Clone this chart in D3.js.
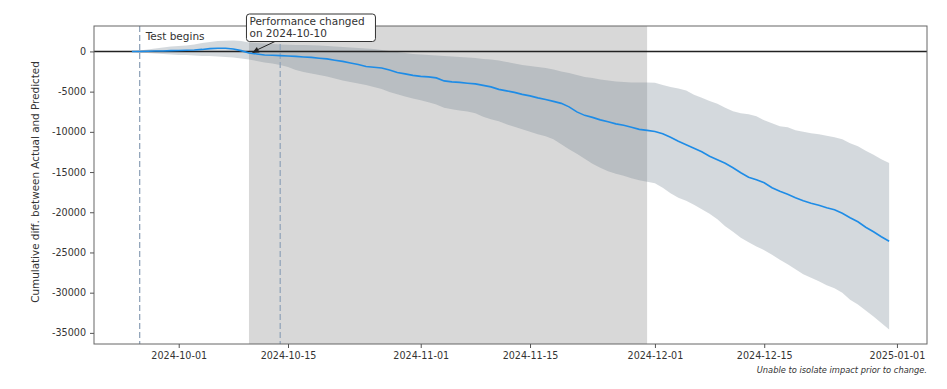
<!DOCTYPE html>
<html>
<head>
<meta charset="utf-8">
<script src="https://cdn.jsdelivr.net/npm/d3@7"></script>
<style>
  html, body { margin: 0; padding: 0; background: #fff; }
  svg { display: block; font-family: "DejaVu Sans", sans-serif; }
</style>
</head>
<body>
<svg id="chart" width="947" height="389"></svg>
<script>
// ---- data ----
const startDate = "2024-09-25"; // daily series, Sep 25 .. Dec 31 2024
const actualDiff = [
  0, 0, 25, 60, 60, 100,
  125, 150, 185, 250, 350, 400, 400, 310, 100, -185,
  -310, -435, -470, -520, -560, -620, -685, -745, -845, -930,
  -1095, -1240, -1430, -1615, -1865, -1960, -2050, -2300, -2610, -2795,
  -2980,
  -3105, -3165, -3290, -3665, -3790, -3850, -3950, -4035, -4225, -4410,
  -4720, -4905, -5090, -5340, -5525, -5775, -5985, -6210, -6460, -6895,
  -7515, -7950, -8200, -8510, -8755, -9005, -9190, -9440, -9690, -9815,
  -9960, -10245, -10680, -11180, -11610, -12045, -12480, -13040, -13475, -13910,
  -14470, -15090, -15650, -15960, -16330, -16955, -17390, -17765, -18200, -18570,
  -18880, -19130, -19440, -19690, -20120, -20680, -21180, -21860, -22420, -23040,
  -23610
];
const upperCI = [
  0, 125, 250, 375, 495, 620,
  685, 745, 870, 1055, 1180, 1305, 1340, 1365, 1305, 1120,
  1055, 995, 930, 870, 830, 805, 805, 770, 745, 685,
  620, 560, 495, 435, 375, 310, 185, 60, -60, -185,
  -310,
  -375, -435, -495, -560, -620, -685, -745, -805, -930, -995,
  -1120, -1305, -1490, -1675, -1800, -1925, -2050, -2235, -2485, -2670,
  -2920, -3170, -3290, -3480, -3600, -3725, -3790, -3850, -3875, -3875,
  -3910, -4160, -4410, -4595, -4845, -5400, -5775, -6150, -6520, -7015,
  -7450, -7700, -7825, -8075, -8570, -8940, -9315, -9440, -9810, -9995,
  -10185, -10310, -10495, -10680, -10930, -11425, -11800, -12360, -12855, -13415,
  -13885
];
const lowerCI = [
  0, -125, -185, -250, -310, -375,
  -435, -435, -495, -560, -560, -620, -685, -745, -870, -995,
  -1180, -1365, -1490, -1675, -1925, -2300, -2545, -2730, -2920, -3105,
  -3355, -3600, -3790, -3975, -4160, -4410, -4660, -5030, -5340, -5590,
  -5840,
  -6085, -6335, -6585, -7015, -7205, -7330, -7475, -7700, -8135, -8445,
  -8695, -9065, -9375, -9690, -10000, -10310, -10555, -10930, -11550, -12170,
  -12730, -13350, -13970, -14470, -14905, -15215, -15465, -15775, -16020, -16210,
  -16395, -16955, -17635, -18195, -18570, -19065, -19625, -20180, -20865, -21735,
  -22420, -23165, -23720, -24245, -24715, -25275, -25895, -26455, -27075, -27700,
  -28130, -28565, -29065, -29435, -29995, -30865, -31485, -32230, -32975, -33780,
  -34585
];
const xTickLabels = ["2024-10-01", "2024-10-15", "2024-11-01", "2024-11-15", "2024-12-01", "2024-12-15", "2025-01-01"];
const yTickValues = [0, -5000, -10000, -15000, -20000, -25000, -30000, -35000];
const testBegins = "2024-09-26";
const changeDate = "2024-10-10";
const secondMarker = "2024-10-14";
const periodEnd = "2024-11-30";
const annotationLines = ["Performance changed", "on 2024-10-10"];
const testLabel = "Test begins";
const yLabel = "Cumulative diff. between Actual and Predicted";
const footnote = "Unable to isolate impact prior to change.";

// ---- build ----
const parse = d3.utcParse("%Y-%m-%d");
const dates = d3.utcDay.range(parse(startDate), d3.utcDay.offset(parse(startDate), actualDiff.length));
const rows = dates.map((d, i) => ({ date: d, v: actualDiff[i], hi: upperCI[i], lo: lowerCI[i] }));

const svg = d3.select("#chart");
const M = { left: 94, right: 927, top: 26, bottom: 344 };

const xExt = d3.extent(dates);
const xPad = (xExt[1] - xExt[0]) * 0.05;
const x = d3.scaleUtc()
  .domain([new Date(+xExt[0] - xPad), new Date(+xExt[1] + xPad)])
  .range([M.left, M.right]);

const yMin = d3.min(lowerCI), yMax = d3.max(upperCI);
const yPad = (yMax - yMin) * 0.05;
const y = d3.scaleLinear().domain([yMin - yPad, yMax + yPad]).range([M.bottom, M.top]);

const textColor = "#333";

// shaded period
svg.append("rect")
  .attr("x", x(parse(changeDate)))
  .attr("y", M.top)
  .attr("width", x(parse(periodEnd)) - x(parse(changeDate)))
  .attr("height", M.bottom - M.top)
  .attr("fill", "rgba(128,128,128,0.31)");

// confidence band
svg.append("path")
  .datum(rows)
  .attr("d", d3.area().x(d => x(d.date)).y0(d => y(d.lo)).y1(d => y(d.hi)))
  .attr("fill", "rgba(112,128,144,0.3)");

// vertical dashed markers
[testBegins, secondMarker].forEach(s => {
  svg.append("line")
    .attr("x1", x(parse(s))).attr("x2", x(parse(s)))
    .attr("y1", M.top).attr("y2", M.bottom)
    .attr("stroke", "#93a5ba").attr("stroke-width", 1.3)
    .attr("stroke-dasharray", "6,3");
});

// zero line
svg.append("line")
  .attr("x1", M.left).attr("x2", M.right)
  .attr("y1", y(0)).attr("y2", y(0))
  .attr("stroke", "#222").attr("stroke-width", 1.5);

// main line
svg.append("path")
  .datum(rows)
  .attr("d", d3.line().x(d => x(d.date)).y(d => y(d.v)))
  .attr("fill", "none")
  .attr("stroke", "#1e8ce6")
  .attr("stroke-width", 1.6);

// axes frame
svg.append("rect")
  .attr("x", M.left).attr("y", M.top)
  .attr("width", M.right - M.left).attr("height", M.bottom - M.top)
  .attr("fill", "none").attr("stroke", "#666").attr("stroke-width", 1);

// x axis
const xAxis = d3.axisBottom(x)
  .tickValues(xTickLabels.map(parse))
  .tickFormat(d3.utcFormat("%Y-%m-%d"))
  .tickSize(4).tickPadding(4);
const gx = svg.append("g").attr("transform", `translate(0,${M.bottom})`).call(xAxis);
gx.select(".domain").remove();
gx.selectAll("line").attr("stroke", "#555");
gx.selectAll("text").attr("fill", textColor).style("font-size", "9.6px").style("font-family", "DejaVu Sans");

// y axis
const yAxis = d3.axisLeft(y)
  .tickValues(yTickValues)
  .tickFormat(d => String(d))
  .tickSize(4).tickPadding(4);
const gy = svg.append("g").attr("transform", `translate(${M.left},0)`).call(yAxis);
gy.select(".domain").remove();
gy.selectAll("line").attr("stroke", "#555");
gy.selectAll("text").attr("fill", textColor).style("font-size", "9.6px").style("font-family", "DejaVu Sans");

// y label
svg.append("text")
  .attr("transform", `translate(39,${(M.top + M.bottom) / 2 - 3}) rotate(-90)`)
  .attr("text-anchor", "middle")
  .attr("fill", textColor)
  .style("font-size", "10.4px")
  .text(yLabel);

// test begins label
svg.append("text")
  .attr("x", x(parse(testBegins)) + 6)
  .attr("y", 40)
  .attr("fill", textColor)
  .style("font-size", "10.5px")
  .text(testLabel);

// annotation
const ci = dates.findIndex(d => +d === +parse(changeDate));
const ax = x(parse(changeDate)), ay = y(actualDiff[ci]);
const boxX = ax - 2.5, boxY = 14, boxW = 129, boxH = 27.5;
svg.append("line")
  .attr("x1", ax + 26).attr("y1", boxY + boxH)
  .attr("x2", ax + 7).attr("y2", ay - 2.5)
  .attr("stroke", "#222").attr("stroke-width", 1);
svg.append("path")
  .attr("d", (() => {
    const tx = ax + 3, ty = ay;
    const dx = 26 - 3, dy = (boxY + boxH) - ay;
    const len = Math.hypot(dx, dy), ux = dx / len, uy = dy / len;
    const L = 7, W = 3;
    const bx = tx + ux * L, by = ty + uy * L;
    return `M${tx},${ty} L${bx - uy * W},${by + ux * W} L${bx + uy * W},${by - ux * W}Z`;
  })())
  .attr("fill", "#222");
svg.append("rect")
  .attr("x", boxX).attr("y", boxY).attr("width", boxW).attr("height", boxH)
  .attr("rx", 3).attr("ry", 3)
  .attr("fill", "#fff").attr("stroke", "#333").attr("stroke-width", 1);
annotationLines.forEach((t, i) => {
  svg.append("text")
    .attr("x", boxX + 3).attr("y", boxY + 10.5 + i * 12)
    .attr("fill", textColor)
    .style("font-size", "10.5px")
    .text(t);
});

// footnote
svg.append("text")
  .attr("x", M.right).attr("y", 373)
  .attr("text-anchor", "end")
  .attr("fill", textColor)
  .style("font-size", "8.3px")
  .style("font-style", "italic")
  .text(footnote);
</script>
</body>
</html>
